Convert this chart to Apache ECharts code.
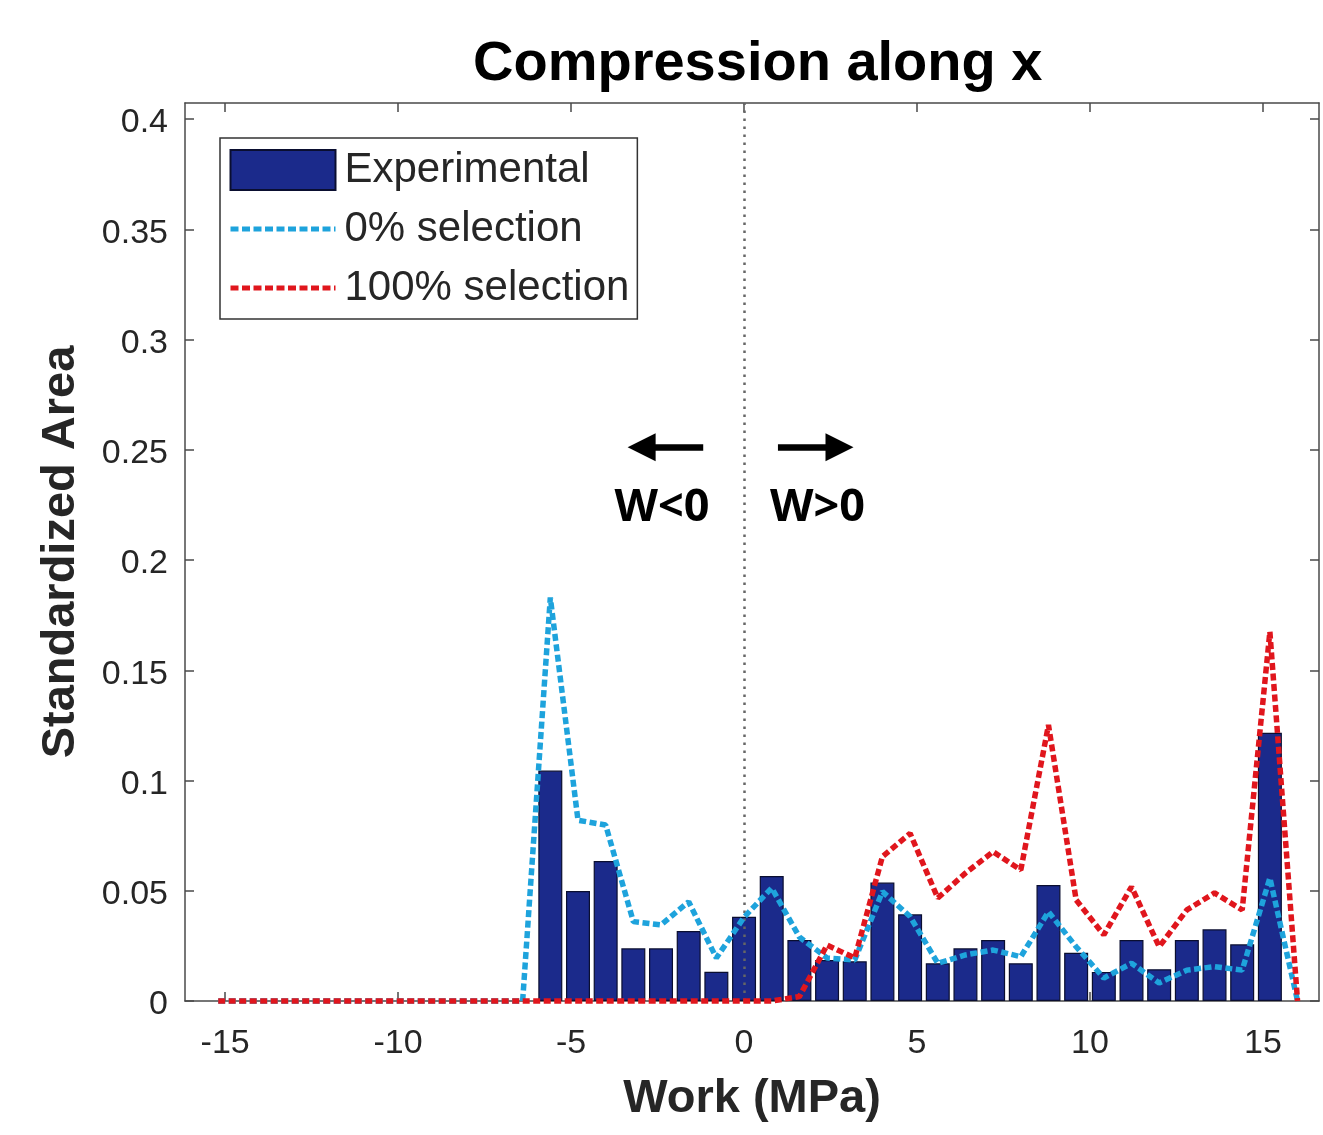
<!DOCTYPE html>
<html>
<head>
<meta charset="utf-8">
<script src="https://cdn.jsdelivr.net/npm/echarts@6/dist/echarts.min.js"></script>
<style>
  html, body { margin: 0; padding: 0; background: #fff; }
  #chart { width: 1323px; height: 1135px; }
</style>
</head>
<body>
<div id="chart"></div>
<script>
// Bin centres (Work, MPa)
const centers = [-15.2,-14.4,-13.6,-12.8,-12,-11.2,-10.4,-9.6,-8.8,-8,-7.2,-6.4,
  -5.6,-4.8,-4,-3.2,-2.4,-1.6,-0.8,0,0.8,1.6,2.4,3.2,4,4.8,5.6,6.4,7.2,8,8.8,9.6,
  10.4,11.2,12,12.8,13.6,14.4,15.2,16];

// Experimental histogram (standardized area)
const experimental = [0,0,0,0,0,0,0,0,0,0,0,0,
  0.1045,0.0499,0.0635,0.0239,0.0239,0.0317,0.0133,0.0382,0.0567,0.0277,0.0186,0.018,
  0.0537,0.0393,0.0171,0.0239,0.0277,0.0171,0.0526,0.0219,0.0132,0.0277,0.0144,0.0277,
  0.0325,0.0257,0.1217,0];

// 0% selection
const sel0 = [0,0,0,0,0,0,0,0,0,0,0,0,
  0.183,0.082,0.0798,0.036,0.0345,0.045,0.0195,0.038,0.0513,0.029,0.0195,0.0186,
  0.0496,0.0383,0.0171,0.0209,0.0231,0.0201,0.0405,0.0246,0.0104,0.0171,0.0082,0.014,
  0.0156,0.014,0.0558,0];

// 100% selection
const sel100 = [0,0,0,0,0,0,0,0,0,0,0,0,
  0,0,0,0,0,0,0,0,0,0.002,0.0254,0.0195,
  0.0655,0.076,0.0467,0.058,0.0677,0.0594,0.1252,0.0458,0.030,0.0518,0.0246,0.0413,
  0.049,0.0413,0.1675,0];

const xTicks = [-15,-10,-5,0,5,10,15];
const yTicks = [0,0.05,0.1,0.15,0.2,0.25,0.3,0.35,0.4];

const seriesNames = ['Experimental','0% selection','100% selection'];
const titleText = 'Compression along x';
const xName = 'Work (MPa)';
const yName = 'Standardized Area';

// Annotation arrows (data coords) and labels
const leftArrow = [[-1.18, 0.2512], [-2.96, 0.2512]];
const rightArrow = [[0.98, 0.2512], [2.76, 0.2512]];
const annotLabels = [
  { text: 'W<0', coord: [-2.37, 0.2235] },
  { text: 'W>0', coord: [2.12, 0.2235] }
];

const X_MIN = -16.16, X_MAX = 16.62, Y_MIN = 0, Y_MAX = 0.4073;

const barData = centers.map((c, i) => [c, experimental[i]]).filter(d => d[1] > 0);
const blueData = centers.map((c, i) => [c, sel0[i]]);
const redData = centers.map((c, i) => [c, sel100[i]]);

const AX = '#4a4a4a';
const TXT = '#262626';
const FONT = "'Liberation Sans', Arial, sans-serif";
const BLUE = '#1ea3dc';
const RED = '#e0161d';
const DASH = [7, 3.5];
const LW = 5.5;

const chart = echarts.init(document.getElementById('chart'), null, { renderer: 'canvas' });

const commonX = {
  type: 'value', min: X_MIN, max: X_MAX,
  axisLine: { show: true, onZero: false, lineStyle: { color: AX, width: 1.5 } },
  splitLine: { show: false }
};
const commonY = {
  type: 'value', min: Y_MIN, max: Y_MAX,
  axisLine: { show: true, onZero: false, lineStyle: { color: AX, width: 1.5 } },
  splitLine: { show: false }
};
const hiddenSym = { color: 'rgba(0,0,0,0)', borderColor: 'rgba(0,0,0,0)', borderWidth: 0 };

chart.setOption({
  animation: false,
  backgroundColor: '#fff',
  title: {
    text: titleText,
    left: 468, top: 32,
    textStyle: { fontFamily: FONT, fontWeight: 'bold', fontSize: 56, color: '#000' }
  },
  legend: {
    orient: 'vertical',
    left: 220, top: 138,
    padding: [11, 8, 10, 8],
    itemWidth: 105, itemHeight: 40, itemGap: 17,
    borderColor: '#333', borderWidth: 1.5,
    backgroundColor: '#fff',
    data: [
      { name: seriesNames[0], icon: 'rect' },
      { name: seriesNames[1], itemStyle: hiddenSym, lineStyle: { color: BLUE, width: 5, type: [8, 3.5] } },
      { name: seriesNames[2], itemStyle: hiddenSym, lineStyle: { color: RED, width: 5, type: [8, 3.5] } }
    ],
    textStyle: { fontFamily: FONT, fontSize: 42, color: TXT, padding: [0, 2, 0, 4] }
  },
  grid: { left: 185, right: 4, top: 103, bottom: 134, containLabel: false },
  xAxis: [
    Object.assign({}, commonX, {
      position: 'bottom',
      name: xName, nameLocation: 'middle', nameGap: 75,
      nameTextStyle: { fontFamily: FONT, fontWeight: 'bold', fontSize: 47, color: TXT },
      axisTick: { show: true, inside: true, length: 9, customValues: xTicks, lineStyle: { color: AX, width: 1.5 } },
      axisLabel: { show: true, customValues: xTicks, margin: 26, fontFamily: FONT, fontSize: 34, color: TXT }
    }),
    Object.assign({}, commonX, {
      position: 'top',
      axisTick: { show: true, inside: true, length: 9, customValues: xTicks, lineStyle: { color: AX, width: 1.5 } },
      axisLabel: { show: false }
    })
  ],
  yAxis: [
    Object.assign({}, commonY, {
      position: 'left',
      name: yName, nameLocation: 'middle', nameGap: 100,
      nameTextStyle: { fontFamily: FONT, fontWeight: 'bold', fontSize: 47, color: TXT },
      axisTick: { show: true, inside: true, length: 9, customValues: yTicks, lineStyle: { color: AX, width: 1.5 } },
      axisLabel: { show: true, customValues: yTicks, margin: 17, verticalAlign: 'top', lineHeight: 8, fontFamily: FONT, fontSize: 34, color: TXT }
    }),
    Object.assign({}, commonY, {
      position: 'right',
      axisTick: { show: true, inside: true, length: 9, customValues: yTicks, lineStyle: { color: AX, width: 1.5 } },
      axisLabel: { show: false }
    })
  ],
  series: [
    {
      name: seriesNames[0],
      type: 'bar',
      xAxisIndex: 0, yAxisIndex: 0,
      data: barData,
      barWidth: 24,
      itemStyle: { color: '#1b2a8b', borderColor: '#0a0e30', borderWidth: 1.2 },
      z: 2,
      markLine: {
        silent: true, symbol: ['none', 'none'],
        label: { show: false },
        lineStyle: { color: '#666', width: 2.5, type: [2.5, 5.5] },
        data: [{ xAxis: 0 }],
        z: 3
      }
    },
    {
      name: seriesNames[1],
      type: 'line',
      xAxisIndex: 0, yAxisIndex: 0,
      data: blueData,
      symbol: 'none', showSymbol: false,
      clip: false,
      lineStyle: { color: BLUE, width: LW, type: DASH },
      itemStyle: { color: BLUE },
      z: 4
    },
    {
      name: seriesNames[2],
      type: 'line',
      xAxisIndex: 0, yAxisIndex: 0,
      data: redData,
      symbol: 'none', showSymbol: false,
      clip: false,
      lineStyle: { color: RED, width: LW, type: DASH },
      itemStyle: { color: RED },
      z: 5
    },
    {
      name: 'annotations',
      type: 'line',
      xAxisIndex: 0, yAxisIndex: 0,
      data: [],
      silent: true,
      markLine: {
        silent: true,
        symbol: ['none', 'triangle'],
        symbolSize: [28, 28],
        label: { show: false },
        lineStyle: { color: '#000', width: 6.5, type: 'solid' },
        data: [
          [{ coord: leftArrow[0] }, { coord: leftArrow[1] }],
          [{ coord: rightArrow[0] }, { coord: rightArrow[1] }]
        ]
      },
      markPoint: {
        silent: true,
        symbol: 'circle', symbolSize: 1,
        itemStyle: { color: 'rgba(0,0,0,0)' },
        label: {
          show: true, position: 'inside',
          fontFamily: "'Open Sans', sans-serif", fontWeight: 'bold', fontSize: 45, color: '#000',
          formatter: p => p.name
        },
        data: annotLabels.map(a => ({ name: a.text, coord: a.coord }))
      },
      z: 6
    }
  ]
});
</script>
</body>
</html>
